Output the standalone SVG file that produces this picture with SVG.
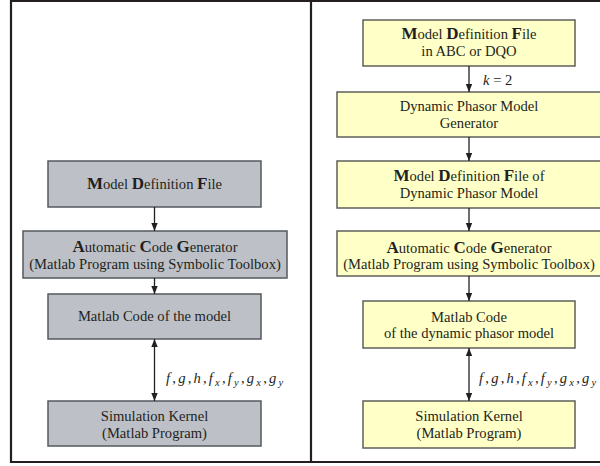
<svg xmlns="http://www.w3.org/2000/svg" width="600" height="466" viewBox="0 0 600 466">
<style>
text{font-family:"Liberation Serif","Times New Roman",serif;font-size:14.6px;fill:#231f20;text-anchor:middle}
.b{font-weight:bold;font-size:17px}
.i{font-style:italic}
.s{font-size:10.5px;font-style:italic}
.gray{fill:#bdc1c7;stroke:#55595e;stroke-width:1.5}
.yel{fill:#ffffc8;stroke:#5f5f5a;stroke-width:1.5}
.ln{stroke:#231f20;stroke-width:1.3;fill:none}
.frame{stroke:#231f20;stroke-width:2.2;fill:none}
.lbl{text-anchor:start}
.math{text-anchor:start;letter-spacing:2.2px}
</style>
<defs>
<marker id="ah" viewBox="0 0 8 8" refX="8" refY="4" markerWidth="8" markerHeight="8" markerUnits="userSpaceOnUse" orient="auto-start-reverse">
<path d="M0,0.8 L8,4 L0,7.2 Z" fill="#231f20"/>
</marker>
</defs>
<rect width="600" height="466" fill="#ffffff"/>
<g id="frame">
<path class="frame" d="M601,1 H11 V462 H601 M311,1 V462"/>
</g>
<g id="left-mdf">
<rect class="gray" x="48" y="161" width="213" height="46"/>
<text x="154.5" y="189"><tspan class="b">M</tspan>odel <tspan class="b">D</tspan>efinition <tspan class="b">F</tspan>ile</text>
</g>
<g id="left-acg">
<rect class="gray" x="23" y="231" width="264" height="47"/>
<text x="155" y="252"><tspan class="b">A</tspan>utomatic <tspan class="b">C</tspan>ode <tspan class="b">G</tspan>enerator</text>
<text x="155" y="269">(Matlab Program using Symbolic Toolbox)</text>
</g>
<g id="left-code">
<rect class="gray" x="48" y="294" width="213" height="45"/>
<text x="154.5" y="321">Matlab Code of the model</text>
</g>
<g id="left-kernel">
<rect class="gray" x="48" y="401" width="213" height="45"/>
<text x="154.5" y="421">Simulation Kernel</text>
<text x="154.5" y="438">(Matlab Program)</text>
</g>
<g id="right-mdf">
<rect class="yel" x="363" y="20" width="212" height="46"/>
<text x="469" y="39"><tspan class="b">M</tspan>odel <tspan class="b">D</tspan>efinition <tspan class="b">F</tspan>ile</text>
<text x="469" y="56">in ABC or DQO</text>
</g>
<g id="right-dpmg">
<rect class="yel" x="337" y="92" width="264" height="45"/>
<text x="469" y="111">Dynamic Phasor Model</text>
<text x="469" y="128">Generator</text>
</g>
<g id="right-mdf-dp">
<rect class="yel" x="337" y="161" width="264" height="47"/>
<text x="469" y="181"><tspan class="b">M</tspan>odel <tspan class="b">D</tspan>efinition <tspan class="b">F</tspan>ile of</text>
<text x="469" y="198">Dynamic Phasor Model</text>
</g>
<g id="right-acg">
<rect class="yel" x="337" y="231" width="264" height="45"/>
<text x="469" y="253"><tspan class="b">A</tspan>utomatic <tspan class="b">C</tspan>ode <tspan class="b">G</tspan>enerator</text>
<text x="469" y="269">(Matlab Program using Symbolic Toolbox)</text>
</g>
<g id="right-code">
<rect class="yel" x="363" y="301" width="212" height="47"/>
<text x="469" y="322">Matlab Code</text>
<text x="469" y="338">of the dynamic phasor model</text>
</g>
<g id="right-kernel">
<rect class="yel" x="363" y="401" width="212" height="47"/>
<text x="469" y="421">Simulation Kernel</text>
<text x="469" y="438">(Matlab Program)</text>
</g>
<g id="connectors">
<line class="ln" x1="154.5" y1="207" x2="154.5" y2="231" marker-end="url(#ah)"/>
<line class="ln" x1="154.5" y1="278" x2="154.5" y2="294" marker-end="url(#ah)"/>
<line class="ln" x1="154.5" y1="339" x2="154.5" y2="401" marker-start="url(#ah)" marker-end="url(#ah)"/>
<line class="ln" x1="469" y1="66" x2="469" y2="92" marker-end="url(#ah)"/>
<line class="ln" x1="469" y1="137" x2="469" y2="161" marker-end="url(#ah)"/>
<line class="ln" x1="469" y1="208" x2="469" y2="231" marker-end="url(#ah)"/>
<line class="ln" x1="469" y1="276" x2="469" y2="301" marker-end="url(#ah)"/>
<line class="ln" x1="469" y1="348" x2="469" y2="401" marker-start="url(#ah)" marker-end="url(#ah)"/>
<text class="lbl" x="483" y="85"><tspan class="i">k</tspan> = 2</text>
<text class="math" x="166" y="383"><tspan class="i">f</tspan>,<tspan class="i">g</tspan>,<tspan class="i">h</tspan>,<tspan class="i">f</tspan><tspan class="s" dy="3">x</tspan><tspan dy="-3">,</tspan><tspan class="i">f</tspan><tspan class="s" dy="3">y</tspan><tspan dy="-3">,</tspan><tspan class="i">g</tspan><tspan class="s" dy="3">x</tspan><tspan dy="-3">,</tspan><tspan class="i">g</tspan><tspan class="s" dy="3">y</tspan></text>
<text class="math" x="479" y="383"><tspan class="i">f</tspan>,<tspan class="i">g</tspan>,<tspan class="i">h</tspan>,<tspan class="i">f</tspan><tspan class="s" dy="3">x</tspan><tspan dy="-3">,</tspan><tspan class="i">f</tspan><tspan class="s" dy="3">y</tspan><tspan dy="-3">,</tspan><tspan class="i">g</tspan><tspan class="s" dy="3">x</tspan><tspan dy="-3">,</tspan><tspan class="i">g</tspan><tspan class="s" dy="3">y</tspan></text>
</g>
</svg>
